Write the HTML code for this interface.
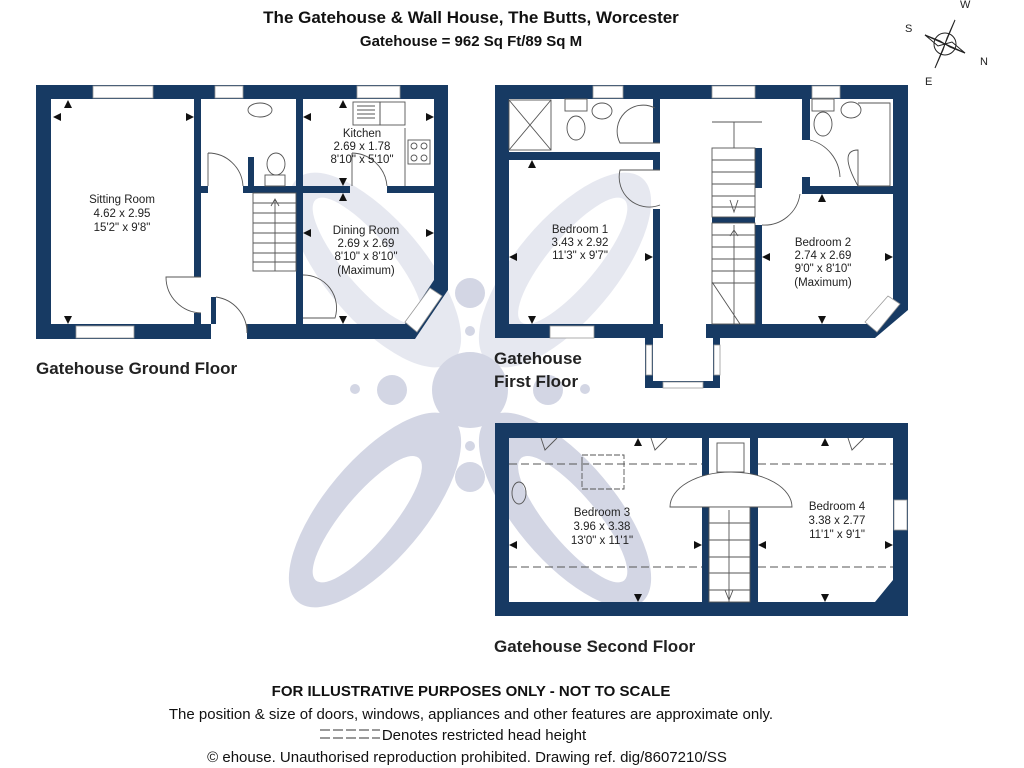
<!DOCTYPE html>
<html><head><meta charset="utf-8"><style>
html,body{margin:0;padding:0;background:#fff;width:1024px;height:768px;overflow:hidden}
svg{display:block}
text{font-family:"Liberation Sans",sans-serif}
</style></head><body>
<svg width="1024" height="768" viewBox="0 0 1024 768" xmlns="http://www.w3.org/2000/svg">
<!-- watermark -->
<g fill="#d3d6e4">
<circle cx="470" cy="390" r="38"/>
<circle cx="392" cy="390" r="15"/><circle cx="355" cy="389" r="5"/>
<circle cx="548" cy="390" r="15"/><circle cx="585" cy="389" r="5"/>
<circle cx="470" cy="331" r="5"/><circle cx="470" cy="293" r="15"/>
<circle cx="470" cy="446" r="5"/><circle cx="470" cy="477" r="15"/>
<g fill-rule="evenodd">
<path transform="translate(375,510) rotate(40)" d="M-50,0A50,120 0 1 0 50,0A50,120 0 1 0 -50,0ZM-24,12A24,80 0 1 0 24,12A24,80 0 1 0 -24,12Z"/>
<path transform="translate(565,510) rotate(-40)" d="M-50,0A50,120 0 1 0 50,0A50,120 0 1 0 -50,0ZM-24,12A24,80 0 1 0 24,12A24,80 0 1 0 -24,12Z"/>
<g opacity="0.55">
<path transform="translate(375,270) rotate(-40)" d="M-50,0A50,120 0 1 0 50,0A50,120 0 1 0 -50,0ZM-24,-12A24,80 0 1 0 24,-12A24,80 0 1 0 -24,-12Z"/>
<path transform="translate(565,270) rotate(40)" d="M-50,0A50,120 0 1 0 50,0A50,120 0 1 0 -50,0ZM-24,-12A24,80 0 1 0 24,-12A24,80 0 1 0 -24,-12Z"/>
</g>
</g>
</g>

<g fill="#173a63">
<rect x="36" y="85" width="412" height="14"/>
<rect x="36" y="85" width="15" height="254"/>
<rect x="36" y="324" width="175" height="15"/>
<rect x="247" y="324" width="166" height="15"/>
<rect x="434" y="85" width="14" height="195"/>
<polygon points="434,280 448,280 448,290 415,339 400,339 400,324 405,324"/>
<rect x="194" y="99" width="7" height="178"/>
<rect x="194" y="313" width="7" height="11"/>
<rect x="296" y="99" width="7" height="225"/>
<rect x="201" y="186" width="7" height="7"/>
<rect x="243" y="186" width="53" height="7"/>
<rect x="303" y="186" width="47" height="7"/>
<rect x="387" y="186" width="47" height="7"/>
<rect x="248" y="157" width="6" height="29"/>
<rect x="211" y="297" width="5" height="27"/>
<rect x="495" y="85" width="413" height="14"/>
<rect x="495" y="85" width="14" height="253"/>
<rect x="495" y="324" width="168" height="14"/>
<rect x="893" y="85" width="15" height="217"/>
<polygon points="893,302 908,302 908,310 875,338 860,338 860,324 880,324"/>
<rect x="706" y="324" width="160" height="14"/>
<rect x="645" y="324" width="8" height="64"/>
<rect x="713" y="324" width="7" height="64"/>
<rect x="645" y="381" width="75" height="7"/>
<rect x="509" y="152" width="151" height="8"/>
<rect x="653" y="99" width="7" height="44"/>
<rect x="653" y="152" width="7" height="18"/>
<rect x="653" y="209" width="7" height="115"/>
<rect x="755" y="148" width="7" height="40"/>
<rect x="755" y="225" width="7" height="99"/>
<rect x="802" y="99" width="8" height="41"/>
<rect x="802" y="177" width="8" height="17"/>
<rect x="802" y="186" width="91" height="8"/>
<rect x="712" y="217" width="43" height="6"/>
<path fill-rule="evenodd" d="M495,423 H908 V616 H495 Z M509,438 V602 H875 L893,580 V438 Z"/>
<rect x="702" y="438" width="7" height="164"/>
<rect x="750" y="438" width="8" height="164"/>
</g>

<g fill="#fff" stroke="#999" stroke-width="0.8">
<rect x="93" y="86" width="60" height="12"/><rect x="215" y="86" width="28" height="12"/><rect x="357" y="86" width="43" height="12"/>
<rect x="76" y="326" width="58" height="12"/>
<rect x="593" y="86" width="30" height="12"/><rect x="712" y="86" width="43" height="12"/><rect x="812" y="86" width="28" height="12"/>
<rect x="550" y="326" width="44" height="12"/>
<rect x="646" y="345" width="6" height="30"/><rect x="714" y="345" width="6" height="30"/><rect x="663" y="382" width="40" height="6"/>
<rect x="894" y="500" width="13" height="30"/>
<polygon points="405,322 430,288 442,296 417,332"/>
<polygon points="865,322 888,296 900,304 877,332"/>
</g>

<g fill="none" stroke="#555" stroke-width="0.9">
<rect x="253" y="193" width="43" height="78" fill="#fff"/>
<path d="M253,203H296M253,213H296M253,223H296M253,233H296M253,243H296M253,253H296M253,262H296M275,200V271M271,206L275,199L279,206"/>
<ellipse cx="260" cy="110" rx="12" ry="7"/>
<ellipse cx="276" cy="164" rx="9" ry="11"/><rect x="265" y="175" width="20" height="11"/>
<rect x="353" y="102" width="27" height="23"/><rect x="380" y="102" width="25" height="23"/>
<path d="M357,106h18M357,110h18M357,114h18M357,118h18"/>
<path d="M405,128V186"/><rect x="408" y="140" width="22" height="24"/>
<circle cx="414" cy="146" r="3"/><circle cx="424" cy="146" r="3"/><circle cx="414" cy="158" r="3"/><circle cx="424" cy="158" r="3"/>
<path d="M208,153V186M208,153A35,35 0 0 1 243,186"/>
<path d="M352,153V186M352,153A36,36 0 0 1 387,186"/>
<path d="M201,277H166A36,36 0 0 0 201,313"/>
<path d="M216,297A36,36 0 0 1 247,333V324"/>
<path d="M303,275A33,33 0 0 1 335,318H303"/>
<rect x="509" y="100" width="42" height="50"/><path d="M509,100L551,150M551,100L509,150"/>
<ellipse cx="576" cy="128" rx="9" ry="12"/><rect x="565" y="99" width="22" height="12"/>
<ellipse cx="602" cy="111" rx="10" ry="8"/>
<path d="M660,143H620A26,26 0 0 1 655,108"/>
<path d="M660,170H620A30,30 0 0 0 660,205"/>
<path d="M712,122H762M734,122V217"/>
<rect x="712" y="148" width="43" height="69" fill="#fff"/>
<path d="M712,160h43M712,172h43M712,184h43M712,196h43M712,207h43M730,200L734,212L738,200"/>
<rect x="712" y="223" width="43" height="101" fill="#fff"/>
<path d="M712,235h43M712,247h43M712,259h43M712,271h43M712,283h43M734,225V324M730,236L734,230L738,236M712,282L740,324"/>
<ellipse cx="823" cy="124" rx="9" ry="12"/><rect x="812" y="99" width="22" height="12"/>
<ellipse cx="851" cy="110" rx="10" ry="8"/>
<path d="M858,103H890V186H858V150Q838,150 858,186"/>
<path d="M810,140A40,40 0 0 1 840,177"/>
<path d="M762,225A36,36 0 0 0 800,194"/>
<path stroke-dasharray="8,4" d="M509,464H702M758,464H893M509,567H702M758,567H893"/>
<rect x="582" y="455" width="42" height="34" stroke-dasharray="6,2"/>
<ellipse cx="519" cy="493" rx="7" ry="11"/>
<rect x="717" y="443" width="27" height="29"/>
<path fill="#fff" d="M670,507A61,35 0 0 1 792,507Z"/>
<rect x="709" y="507" width="41" height="95" fill="#fff"/>
<path d="M709,523h41M709,540h41M709,557h41M709,573h41M709,590h41M729,510V602M725,590L729,600L733,590"/>
<path d="M541,438L545,450L557,438M651,438L655,450L667,438M848,438L852,450L864,438"/>
</g>

<g fill="#111">
<path d="M68,100l-4,8h8zM53,117l8,-4v8zM194,117l-8,-4v8zM68,324l-4,-8h8z"/>
<path d="M343,100l-4,8h8z"/>
<path d="M303,117l8,-4v8zM434,117l-8,-4v8zM343,186l-4,-8h8zM343,193l-4,8h8zM303,233l8,-4v8zM434,233l-8,-4v8zM343,324l-4,-8h8z"/>
<path d="M532,160l-4,8h8zM509,257l8,-4v8zM653,257l-8,-4v8zM532,324l-4,-8h8z"/>
<path d="M822,194l-4,8h8zM762,257l8,-4v8zM893,257l-8,-4v8zM822,324l-4,-8h8z"/>
<path d="M638,438l-4,8h8zM638,602l-4,-8h8zM509,545l8,-4v8zM702,545l-8,-4v8z"/>
<path d="M825,438l-4,8h8zM825,602l-4,-8h8zM758,545l8,-4v8zM893,545l-8,-4v8z"/>
</g>

<g font-size="11.5" fill="#222" text-anchor="middle">
<text x="122" y="203">Sitting Room</text><text x="122" y="217">4.62 x 2.95</text><text x="122" y="231">15'2" x 9'8"</text>
<text x="362" y="137">Kitchen</text><text x="362" y="150">2.69 x 1.78</text><text x="362" y="163">8'10" x 5'10"</text>
<text x="366" y="234">Dining Room</text><text x="366" y="247">2.69 x 2.69</text><text x="366" y="260">8'10" x 8'10"</text><text x="366" y="274">(Maximum)</text>
<text x="580" y="233">Bedroom 1</text><text x="580" y="246">3.43 x 2.92</text><text x="580" y="259">11'3" x 9'7"</text>
<text x="823" y="246">Bedroom 2</text><text x="823" y="259">2.74 x 2.69</text><text x="823" y="272">9'0" x 8'10"</text><text x="823" y="286">(Maximum)</text>
<text x="602" y="516">Bedroom 3</text><text x="602" y="530">3.96 x 3.38</text><text x="602" y="544">13'0" x 11'1"</text>
<text x="837" y="510">Bedroom 4</text><text x="837" y="524">3.38 x 2.77</text><text x="837" y="538">11'1" x 9'1"</text>
</g>

<g font-size="17" font-weight="bold" fill="#222">
<text x="36" y="374">Gatehouse Ground Floor</text>
<text x="494" y="364">Gatehouse</text><text x="494" y="387">First Floor</text>
<text x="494" y="652">Gatehouse Second Floor</text>
</g>

<g text-anchor="middle" font-weight="bold" fill="#111">
<text x="471" y="23" font-size="17">The Gatehouse &amp; Wall House, The Butts, Worcester</text>
<text x="471" y="46" font-size="15">Gatehouse = 962 Sq Ft/89 Sq M</text>
</g>

<g stroke="#222" fill="none" stroke-width="1">
<circle cx="945" cy="44" r="11"/>
<path d="M945,44L965,53L952,42ZM945,44L925,35L938,46ZM945,44L955,20L947,38ZM945,44L935,68L943,50Z"/>
<path d="M945,44L965,53L950,47Z" fill="#222"/><path d="M945,44L925,35L940,41Z" fill="#222"/>
</g>
<g font-size="11" fill="#222"><text x="905" y="32">S</text><text x="960" y="8">W</text><text x="980" y="65">N</text><text x="925" y="85">E</text></g>

<g text-anchor="middle" fill="#111">
<text x="471" y="696" font-size="15" font-weight="bold">FOR ILLUSTRATIVE PURPOSES ONLY - NOT TO SCALE</text>
<text x="471" y="719" font-size="15">The position &amp; size of doors, windows, appliances and other features are approximate only.</text>
<text x="484" y="740" font-size="15">Denotes restricted head height</text>
<text x="467" y="762" font-size="15">© ehouse. Unauthorised reproduction prohibited. Drawing ref. dig/8607210/SS</text>
</g>
<path d="M320,730h60M320,738h60" stroke="#333" stroke-dasharray="10,3" fill="none"/>
</svg>
</body></html>
